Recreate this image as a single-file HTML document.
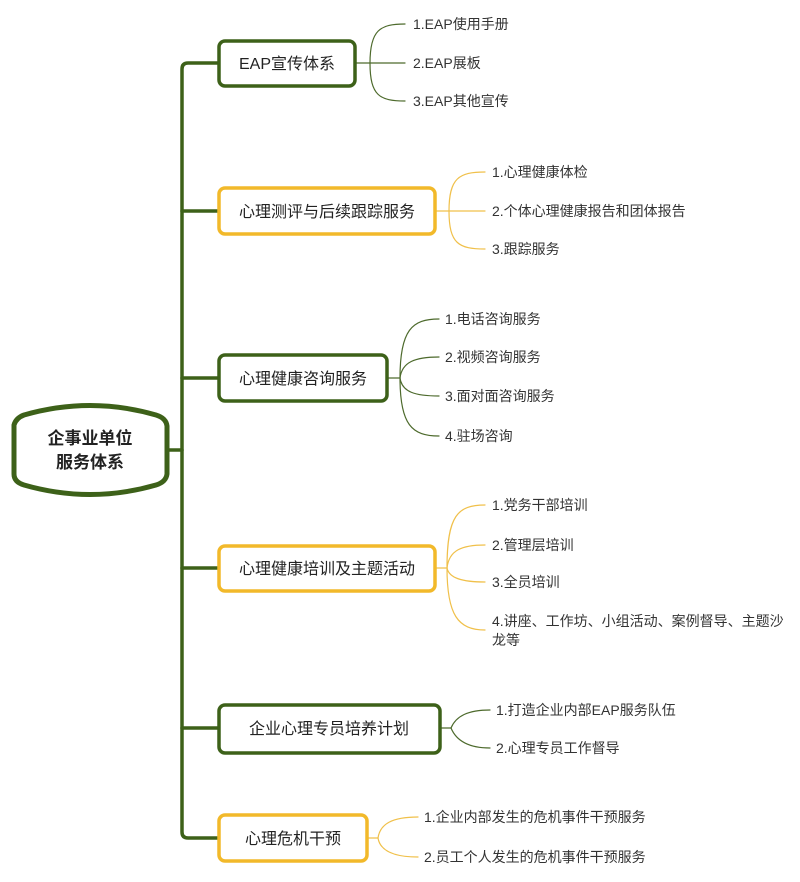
<!DOCTYPE html>
<html><head><meta charset="utf-8"><style>
html,body{margin:0;padding:0;background:#fff;}
svg{display:block;}
text{font-family:"Liberation Sans","Noto Sans CJK SC",sans-serif;fill:#333;}
.c{font-size:14px;}
.b{font-size:16px;fill:#222;}
</style></head><body>
<svg width="800" height="882" viewBox="0 0 800 882" xmlns="http://www.w3.org/2000/svg">
<g fill="none" stroke-linecap="round">
<path d="M219,63 H188 Q182,63 182,69 V832 Q182,838 188,838 H219" stroke="#3d6119" stroke-width="3.5"/>
<path d="M168,450 H182 M182,211 H219 M182,378 H219 M182,568 H219 M182,728 H219" stroke="#3d6119" stroke-width="3.5"/>
<g stroke="#4d6a2c" stroke-width="1.2">
<path d="M355,63 H370"/>
<path d="M370,63 C370,30 380,24 405,24"/>
<path d="M370,63 H405"/>
<path d="M370,63 C370,96 380,101 405,101"/>
</g>
<g stroke="#f0c04a" stroke-width="1.2">
<path d="M435,211 H449"/>
<path d="M449,211 C449,178 459,172 485,172"/>
<path d="M449,211 H485"/>
<path d="M449,211 C449,244 459,249 485,249"/>
</g>
<g stroke="#4d6a2c" stroke-width="1.2">
<path d="M387,378 H400"/>
<path d="M400,378 C400,330 412,319 439,319"/>
<path d="M400,378 C402,362 415,357 439,357"/>
<path d="M400,378 C402,392 415,396 439,396"/>
<path d="M400,378 C400,425 412,436 439,436"/>
</g>
<g stroke="#f0c04a" stroke-width="1.2">
<path d="M435,568 H447"/>
<path d="M447,568 C447,515 458,505 485,505"/>
<path d="M447,568 C449,550 462,545 485,545"/>
<path d="M447,568 C449,578 462,582 485,582"/>
<path d="M447,568 C447,615 458,630 485,630"/>
</g>
<g stroke="#4d6a2c" stroke-width="1.2">
<path d="M440,728 H451"/>
<path d="M451,728 C456,716 468,710 490,710"/>
<path d="M451,728 C456,740 468,748 490,748"/>
</g>
<g stroke="#f0c04a" stroke-width="1.2">
<path d="M367,838 H378"/>
<path d="M378,838 C380,824 392,817 418,817"/>
<path d="M378,838 C380,850 392,857 418,857"/>
</g>
<rect x="219" y="41" width="136" height="45" rx="6" stroke="#3d6119" stroke-width="3.5" fill="#fff"/>
<rect x="219" y="188" width="216" height="46" rx="6" stroke="#f2b92a" stroke-width="3.5" fill="#fff"/>
<rect x="219" y="355" width="168" height="46" rx="6" stroke="#3d6119" stroke-width="3.5" fill="#fff"/>
<rect x="219" y="546" width="216" height="45" rx="6" stroke="#f2b92a" stroke-width="3.5" fill="#fff"/>
<rect x="219" y="705" width="221" height="48" rx="6" stroke="#3d6119" stroke-width="3.5" fill="#fff"/>
<rect x="219" y="815" width="148" height="46" rx="6" stroke="#f2b92a" stroke-width="3.5" fill="#fff"/>
<path d="M14,425 Q16,418 24,415 Q90,396 156,415 Q166,418 167,426 V474 Q166,482 156,485 Q90,504 24,485 Q14,482 14,474 Z" stroke="#3d6119" stroke-width="5" fill="#fff"/>
</g>
<text class="b" x="90" y="444" text-anchor="middle" style="font-size:17px;font-weight:bold">企事业单位</text>
<text class="b" x="90" y="468" text-anchor="middle" style="font-size:17px;font-weight:bold">服务体系</text>
<text class="b" x="287" y="69" text-anchor="middle">EAP宣传体系</text>
<text class="b" x="327" y="217" text-anchor="middle">心理测评与后续跟踪服务</text>
<text class="b" x="303" y="384" text-anchor="middle">心理健康咨询服务</text>
<text class="b" x="327" y="574" text-anchor="middle">心理健康培训及主题活动</text>
<text class="b" x="329" y="734" text-anchor="middle">企业心理专员培养计划</text>
<text class="b" x="293" y="844" text-anchor="middle">心理危机干预</text>
<text class="c" x="413" y="29">1.EAP使用手册</text>
<text class="c" x="413" y="68">2.EAP展板</text>
<text class="c" x="413" y="106">3.EAP其他宣传</text>
<text class="c" x="492" y="177">1.心理健康体检</text>
<text class="c" x="492" y="216">2.个体心理健康报告和团体报告</text>
<text class="c" x="492" y="254">3.跟踪服务</text>
<text class="c" x="445" y="324">1.电话咨询服务</text>
<text class="c" x="445" y="362">2.视频咨询服务</text>
<text class="c" x="445" y="401">3.面对面咨询服务</text>
<text class="c" x="445" y="441">4.驻场咨询</text>
<text class="c" x="492" y="510">1.党务干部培训</text>
<text class="c" x="492" y="550">2.管理层培训</text>
<text class="c" x="492" y="587">3.全员培训</text>
<text class="c" x="492" y="626">4.讲座、工作坊、小组活动、案例督导、主题沙</text>
<text class="c" x="492" y="645">龙等</text>
<text class="c" x="496" y="715">1.打造企业内部EAP服务队伍</text>
<text class="c" x="496" y="753">2.心理专员工作督导</text>
<text class="c" x="424" y="822">1.企业内部发生的危机事件干预服务</text>
<text class="c" x="424" y="862">2.员工个人发生的危机事件干预服务</text>
</svg>
</body></html>
